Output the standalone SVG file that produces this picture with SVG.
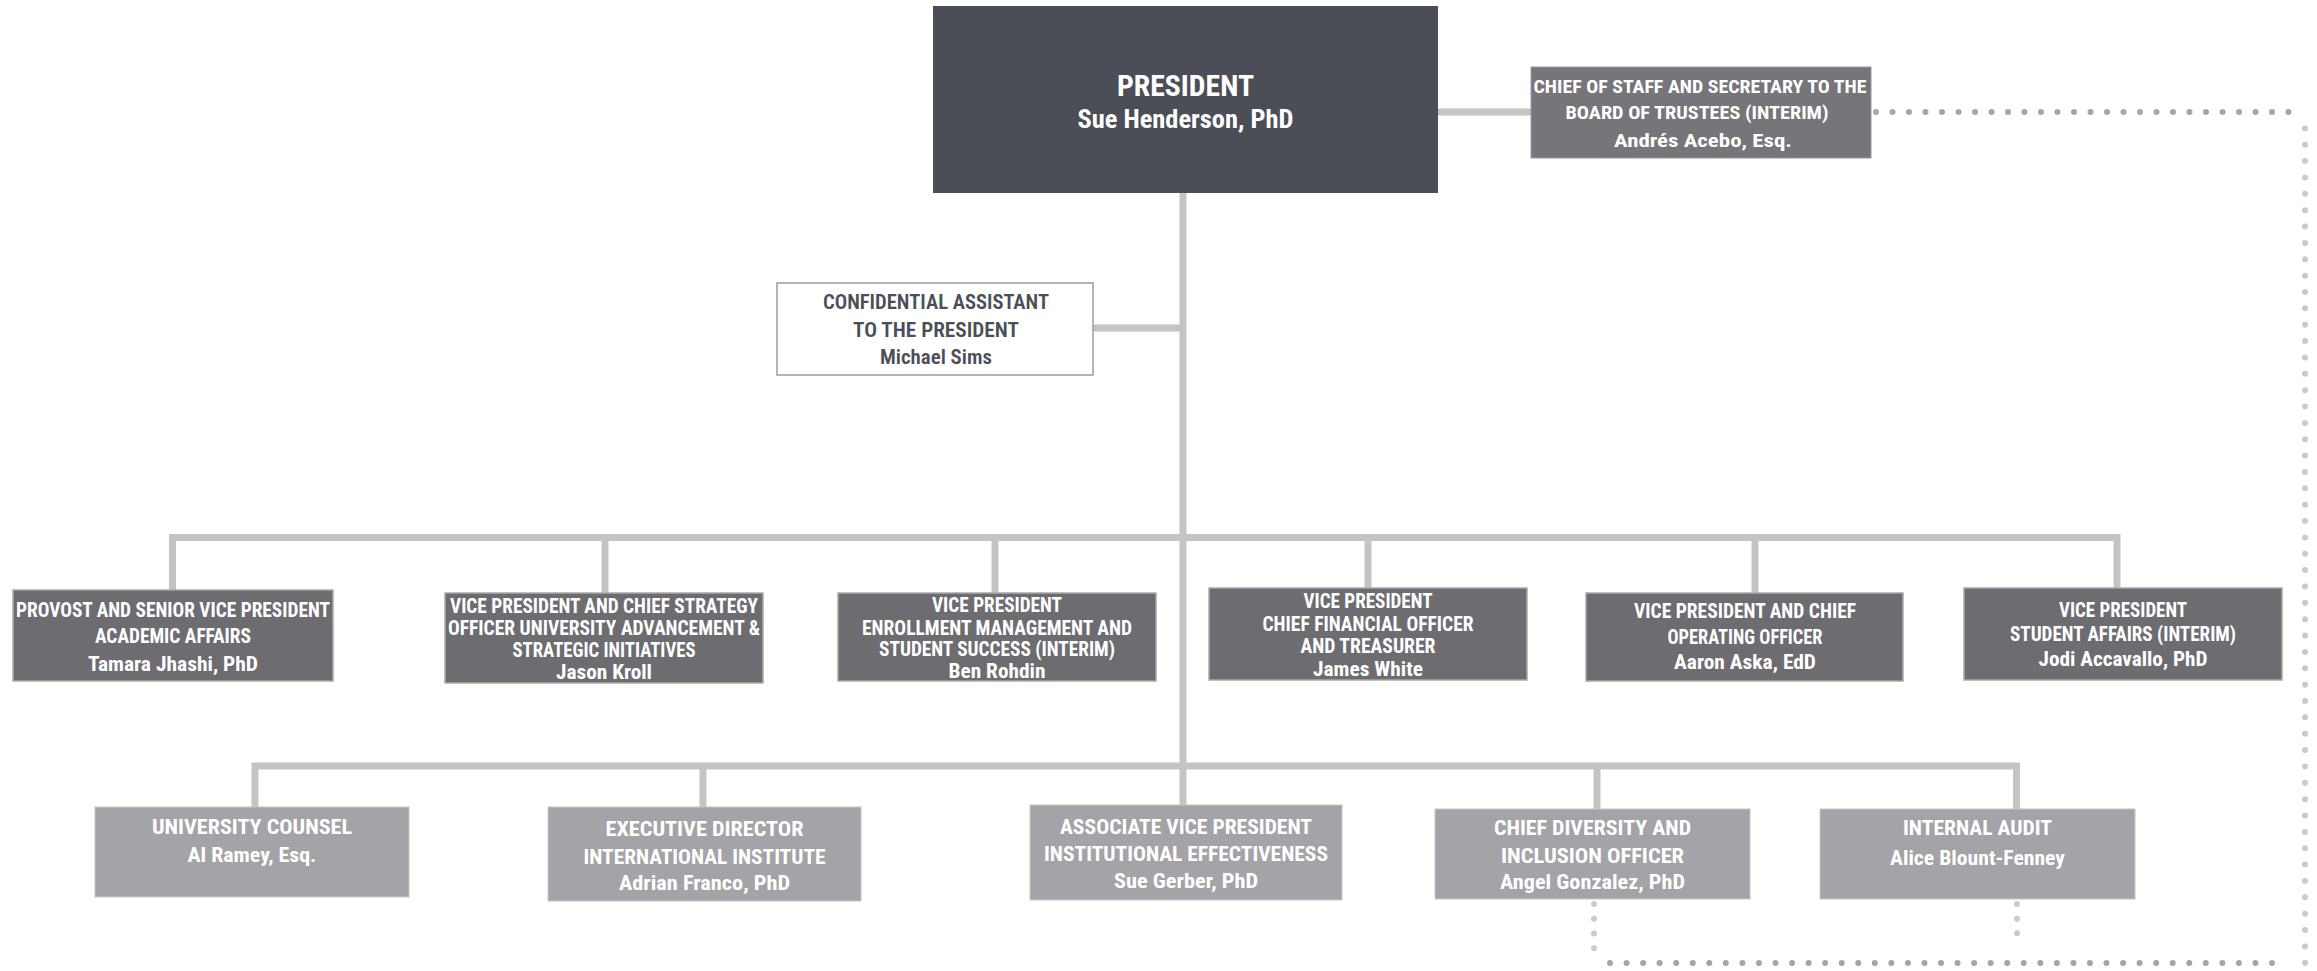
<svg xmlns="http://www.w3.org/2000/svg" width="2317" height="971" viewBox="0 0 2317 971">
<style>
.bg{fill:#ffffff}
.pres{fill:#4b4e56}
.cos{fill:#767579;stroke:#9c9ba0;stroke-width:1}
.l1{fill:#6d6c71;stroke:#a9a9ad;stroke-width:1.5}
.l2{fill:#a4a3a7;stroke:#c6c6c9;stroke-width:1}
.conf{fill:#ffffff;stroke:#9d9d9d;stroke-width:1.5}
.conn{fill:none;stroke:#c4c4c4;stroke-width:7;stroke-linejoin:miter}
.dotd{fill:none;stroke:#aaa4a1;stroke-width:6;stroke-linecap:round}
.dotl{fill:none;stroke:#cacaca;stroke-width:6;stroke-linecap:round}
text{text-anchor:middle;font-family:"Liberation Sans Narrow","Roboto Condensed","Roboto","Liberation Sans",sans-serif;font-weight:700;font-size:20px;fill:#ffffff}
.tc{font-size:18px}
.tp1{font-size:29px}
.tp2{font-size:25px}
.td{fill:#4b4e56;font-weight:600}
</style>
<rect class="bg" x="0" y="0" width="2317" height="971"/>
<g id="connectors">
<path class="conn" d="M1183 192 V805"/>
<path class="conn" d="M1438 112 H1531"/>
<path class="conn" d="M1093 328 H1183"/>
<path class="conn" d="M172.5 590 V537.5 H2117 V588"/>
<path class="conn" d="M605 537.5 V593"/>
<path class="conn" d="M995 537.5 V593"/>
<path class="conn" d="M1368 537.5 V588"/>
<path class="conn" d="M1755 537.5 V593"/>
<path class="conn" d="M255 807 V766 H2016.5 V809"/>
<path class="conn" d="M703 766 V807"/>
<path class="conn" d="M1597 766 V809"/>
</g>
<g id="dotted-connectors">
<path class="dotd" d="M1876 112 H2305" stroke-dasharray="0 16.5"/>
<path class="dotl" d="M2305 128.4 V963" stroke-dasharray="0 16.36"/>
<path class="dotd" d="M1610 963 H2288.5" stroke-dasharray="0 16.55"/>
<path class="dotl" d="M1594 904 V963" stroke-dasharray="0 14.75"/>
<path class="dotl" d="M2017 904 V948" stroke-dasharray="0 14.67"/>
</g>
<g id="president">
<rect class="pres" x="933" y="6" width="505" height="187"/>
<text class="tp1" x="1185.5" y="96" textLength="137" lengthAdjust="spacingAndGlyphs">PRESIDENT</text>
<text class="tp2" x="1185.5" y="128" textLength="216" lengthAdjust="spacingAndGlyphs">Sue Henderson, PhD</text>
</g>
<g id="chief-of-staff">
<rect class="cos" x="1531" y="67" width="340" height="91"/>
<text class="tc" x="1700" y="93" textLength="333" lengthAdjust="spacingAndGlyphs">CHIEF OF STAFF AND SECRETARY TO THE</text>
<text class="tc" x="1697" y="119" textLength="263" lengthAdjust="spacingAndGlyphs">BOARD OF TRUSTEES (INTERIM)</text>
<text class="tc" x="1703" y="147" textLength="178" lengthAdjust="spacingAndGlyphs">Andrés Acebo, Esq.</text>
</g>
<g id="confidential-assistant">
<rect class="conf" x="777" y="283" width="316" height="92"/>
<text class="td" x="936" y="309" textLength="226" lengthAdjust="spacingAndGlyphs">CONFIDENTIAL ASSISTANT</text>
<text class="td" x="936" y="337" textLength="166" lengthAdjust="spacingAndGlyphs">TO THE PRESIDENT</text>
<text class="td" x="936" y="364" textLength="112" lengthAdjust="spacingAndGlyphs">Michael Sims</text>
</g>
<g id="provost">
<rect class="l1" x="13" y="590" width="320" height="91"/>
<text x="173" y="617" textLength="314" lengthAdjust="spacingAndGlyphs">PROVOST AND SENIOR VICE PRESIDENT</text>
<text x="173" y="643" textLength="156" lengthAdjust="spacingAndGlyphs">ACADEMIC AFFAIRS</text>
<text x="173" y="671" textLength="170" lengthAdjust="spacingAndGlyphs">Tamara Jhashi, PhD</text>
</g>
<g id="vp-strategy">
<rect class="l1" x="445" y="593" width="318" height="90"/>
<text x="604" y="613" textLength="308" lengthAdjust="spacingAndGlyphs">VICE PRESIDENT AND CHIEF STRATEGY</text>
<text x="604" y="635" textLength="312" lengthAdjust="spacingAndGlyphs">OFFICER UNIVERSITY ADVANCEMENT &amp;</text>
<text x="604" y="657" textLength="183" lengthAdjust="spacingAndGlyphs">STRATEGIC INITIATIVES</text>
<text x="604" y="679" textLength="96" lengthAdjust="spacingAndGlyphs">Jason Kroll</text>
</g>
<g id="vp-enrollment">
<rect class="l1" x="838" y="593" width="318" height="88"/>
<text x="997" y="612" textLength="130" lengthAdjust="spacingAndGlyphs">VICE PRESIDENT</text>
<text x="997" y="635" textLength="270" lengthAdjust="spacingAndGlyphs">ENROLLMENT MANAGEMENT AND</text>
<text x="997" y="656" textLength="236" lengthAdjust="spacingAndGlyphs">STUDENT SUCCESS (INTERIM)</text>
<text x="997" y="678" textLength="97" lengthAdjust="spacingAndGlyphs">Ben Rohdin</text>
</g>
<g id="vp-cfo">
<rect class="l1" x="1209" y="588" width="318" height="92"/>
<text x="1368" y="608" textLength="129" lengthAdjust="spacingAndGlyphs">VICE PRESIDENT</text>
<text x="1368" y="631" textLength="211" lengthAdjust="spacingAndGlyphs">CHIEF FINANCIAL OFFICER</text>
<text x="1368" y="653" textLength="135" lengthAdjust="spacingAndGlyphs">AND TREASURER</text>
<text x="1368" y="676" textLength="110" lengthAdjust="spacingAndGlyphs">James White</text>
</g>
<g id="vp-coo">
<rect class="l1" x="1586" y="593" width="317" height="88"/>
<text x="1745" y="618" textLength="222" lengthAdjust="spacingAndGlyphs">VICE PRESIDENT AND CHIEF</text>
<text x="1745" y="644" textLength="155" lengthAdjust="spacingAndGlyphs">OPERATING OFFICER</text>
<text x="1745" y="669" textLength="142" lengthAdjust="spacingAndGlyphs">Aaron Aska, EdD</text>
</g>
<g id="vp-student-affairs">
<rect class="l1" x="1964" y="588" width="318" height="92"/>
<text x="2123" y="617" textLength="128" lengthAdjust="spacingAndGlyphs">VICE PRESIDENT</text>
<text x="2123" y="641" textLength="226" lengthAdjust="spacingAndGlyphs">STUDENT AFFAIRS (INTERIM)</text>
<text x="2123" y="666" textLength="169" lengthAdjust="spacingAndGlyphs">Jodi Accavallo, PhD</text>
</g>
<g id="university-counsel">
<rect class="l2" x="95" y="807" width="314" height="90"/>
<text x="252" y="834" textLength="200" lengthAdjust="spacingAndGlyphs">UNIVERSITY COUNSEL</text>
<text x="252" y="862" textLength="129" lengthAdjust="spacingAndGlyphs">Al Ramey, Esq.</text>
</g>
<g id="international-institute">
<rect class="l2" x="548" y="807" width="313" height="94"/>
<text x="704.5" y="836" textLength="198" lengthAdjust="spacingAndGlyphs">EXECUTIVE DIRECTOR</text>
<text x="704.5" y="864" textLength="242" lengthAdjust="spacingAndGlyphs">INTERNATIONAL INSTITUTE</text>
<text x="704.5" y="890" textLength="171" lengthAdjust="spacingAndGlyphs">Adrian Franco, PhD</text>
</g>
<g id="institutional-effectiveness">
<rect class="l2" x="1030" y="805" width="312" height="95"/>
<text x="1186" y="834" textLength="252" lengthAdjust="spacingAndGlyphs">ASSOCIATE VICE PRESIDENT</text>
<text x="1186" y="861" textLength="284" lengthAdjust="spacingAndGlyphs">INSTITUTIONAL EFFECTIVENESS</text>
<text x="1186" y="888" textLength="144" lengthAdjust="spacingAndGlyphs">Sue Gerber, PhD</text>
</g>
<g id="diversity-inclusion">
<rect class="l2" x="1435" y="809" width="315" height="90"/>
<text x="1592.5" y="835" textLength="197" lengthAdjust="spacingAndGlyphs">CHIEF DIVERSITY AND</text>
<text x="1592.5" y="863" textLength="183" lengthAdjust="spacingAndGlyphs">INCLUSION OFFICER</text>
<text x="1592.5" y="889" textLength="185" lengthAdjust="spacingAndGlyphs">Angel Gonzalez, PhD</text>
</g>
<g id="internal-audit">
<rect class="l2" x="1820" y="809" width="315" height="90"/>
<text x="1977.5" y="835" textLength="149" lengthAdjust="spacingAndGlyphs">INTERNAL AUDIT</text>
<text x="1977.5" y="865" textLength="175" lengthAdjust="spacingAndGlyphs">Alice Blount-Fenney</text>
</g>
</svg>
